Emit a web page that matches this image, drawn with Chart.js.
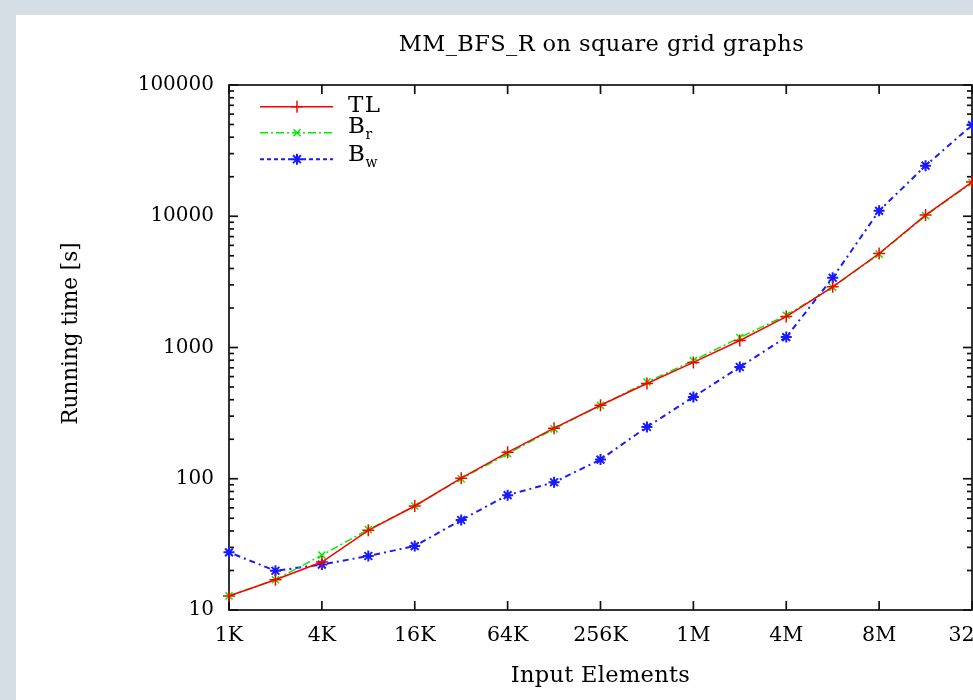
<!DOCTYPE html>
<html><head><meta charset="utf-8">
<script src="https://cdn.jsdelivr.net/npm/chart.js@4.4.1/dist/chart.umd.min.js"></script>
<style>
html,body{margin:0;padding:0;width:973px;height:700px;overflow:hidden;background:#d6dee5;}
#wrap{position:absolute;left:16px;top:15px;width:1100px;height:685px;background:#fff;}
canvas{display:block;}
</style></head><body>
<div id="wrap"><canvas id="c" width="1100" height="685"></canvas></div>
<script>
// ---- data ----
const sizes = ['1K','2K','4K','8K','16K','32K','64K','128K','256K','512K','1M','2M','4M','8M','16M','32M','64M'];
const tlTimes = [12.8, 17.0, 23.2, 40.5, 62, 101, 159, 243, 363, 532, 770, 1130, 1720, 2900, 5200, 10200, 18200];
const brTimes = [12.8, 17.0, 26.2, 41, 62, 100, 155, 240, 362, 545, 795, 1190, 1760, 2880, 5150, 10100, 18000];
const bwTimes = [27.5, 19.9, 22.2, 25.8, 30.7, 48.5, 75, 94, 140, 248, 420, 710, 1200, 3400, 11000, 24300, 49500];
const xTickLabels = ['1K','4K','16K','64K','256K','1M','4M','8M','32M'];
const yTicks = [10, 100, 1000, 10000, 100000];
const chartTitle = 'MM_BFS_R on square grid graphs';
const xTitle = 'Input Elements';
const yTitle = 'Running time [s]';
const legendMain = ['TL', 'B', 'B'];
const legendSub = ['', 'r', 'w'];

const FONT = '"DejaVu Serif", serif';

function pts(arr){ return sizes.map((s,i)=>({x:i, y:arr[i]})); }

function drawMarker(ctx, style, r, x, y){
  if (Chart.helpers && Chart.helpers.drawPoint) {
    Chart.helpers.drawPoint(ctx, {pointStyle: style, radius: r, borderWidth: ctx.lineWidth, rotation: 0}, x, y);
  }
}

const framePlugin = {
  id: 'frame',
  beforeDatasetsDraw(chart){
    const ctx = chart.ctx;
    const {left, right, top, bottom} = chart.chartArea;
    const xs = chart.scales.x, ys = chart.scales.y;
    ctx.save();
    ctx.strokeStyle = '#111';
    ctx.lineWidth = 1.7;
    ctx.strokeRect(left, top, right - left, bottom - top);
    const seg = (x1,y1,x2,y2)=>{ ctx.beginPath(); ctx.moveTo(x1,y1); ctx.lineTo(x2,y2); ctx.stroke(); };
    xs.ticks.forEach(t => {
      const px = xs.getPixelForValue(t.value);
      seg(px, bottom, px, bottom - 9);
      seg(px, top, px, top + 9);
    });
    yTicks.forEach(v => {
      const py = ys.getPixelForValue(v);
      seg(left, py, left + 9, py);
      seg(right, py, right - 9, py);
    });
    yTicks.slice(0, -1).forEach(d => {
      for (let m = 2; m <= 9; m++) {
        const py = ys.getPixelForValue(m * d);
        seg(left, py, left + 5, py);
        seg(right, py, right - 5, py);
      }
    });
    ctx.restore();
  },
  afterDraw(chart){
    const ctx = chart.ctx;
    const {left, right, top, bottom} = chart.chartArea;
    const cx = (left + right) / 2;
    ctx.save();
    ctx.fillStyle = '#000';
    ctx.textBaseline = 'middle';
    // chart title
    ctx.font = '22.5px ' + FONT;
    ctx.letterSpacing = '0.4px';
    ctx.textAlign = 'center';
    ctx.fillText(chartTitle, cx + 1, 30);
    // x title
    ctx.font = '22.5px ' + FONT;
    ctx.letterSpacing = '0.3px';
    ctx.fillText(xTitle, cx, 661);
    // y title
    ctx.save();
    ctx.translate(55, (top + bottom) / 2 - 14);
    ctx.rotate(-Math.PI / 2);
    ctx.font = '21.5px ' + FONT;
    ctx.letterSpacing = '0px';
    ctx.fillText(yTitle, 0, 0);
    ctx.restore();
    // legend
    const lineY = [91.7, 117.7, 144.2];
    const textY = [91, 112.5, 140];
    chart.data.datasets.forEach((ds, i) => {
      const y = lineY[i];
      ctx.save();
      ctx.strokeStyle = ds.borderColor;
      ctx.fillStyle = ds.borderColor;
      ctx.lineWidth = ds.borderWidth;
      ctx.setLineDash(ds.legendDash || ds.borderDash || []);
      ctx.beginPath(); ctx.moveTo(244, y); ctx.lineTo(317, y); ctx.stroke();
      ctx.setLineDash([]);
      ctx.lineWidth = ds.pointBorderWidth;
      drawMarker(ctx, ds.pointStyle, ds.pointRadius, 281, y);
      ctx.restore();
      ctx.font = '23px ' + FONT;
      ctx.letterSpacing = '1.5px';
      ctx.textAlign = 'left';
      ctx.fillText(legendMain[i], 332, textY[i]);
      if (legendSub[i]) {
        const w = ctx.measureText(legendMain[i]).width;
        ctx.font = '14px ' + FONT;
        ctx.letterSpacing = '0px';
        ctx.fillText(legendSub[i], 332 + w - 1, textY[i] + 8);
      }
    });
    ctx.restore();
  }
};

new Chart(document.getElementById('c'), {
  type: 'line',
  data: {
    datasets: [
      { label: 'TL', data: pts(tlTimes), borderColor: '#ff0000', backgroundColor: '#ff0000',
        borderWidth: 1.5, pointStyle: 'cross', pointRadius: 6, pointBorderWidth: 1.5, pointBorderColor: '#ff0000', pointBackgroundColor: '#ff0000', fill: false, tension: 0, clip: 10 },
      { label: 'B_r', data: pts(brTimes), borderColor: '#00ee00', backgroundColor: '#00ee00',
        borderWidth: 1.5, borderDash: [8, 3, 2, 3], pointStyle: 'crossRot', pointRadius: 5, pointBorderWidth: 1.5, pointBorderColor: '#00ee00', pointBackgroundColor: '#00ee00', fill: false, tension: 0, clip: 10 },
      { label: 'B_w', data: pts(bwTimes), borderColor: '#1a1aff', backgroundColor: '#1a1aff',
        borderWidth: 2, borderDash: [2, 4, 6, 4], legendDash: [4, 3], pointStyle: 'star', pointRadius: 5.5, pointBorderWidth: 2, pointBorderColor: '#1a1aff', pointBackgroundColor: '#1a1aff', fill: false, tension: 0, clip: 10 }
    ]
  },
  options: {
    responsive: false,
    animation: false,
    devicePixelRatio: 1,
    layout: { padding: { top: 70, right: 144, left: 0, bottom: 0 } },
    plugins: { legend: { display: false }, title: { display: false }, tooltip: { enabled: false } },
    scales: {
      x: {
        type: 'linear', min: 0, max: sizes.length - 1,
        grid: { display: false, drawTicks: false },
        border: { display: false },
        afterBuildTicks: s => { s.ticks = xTickLabels.map((_, k) => ({ value: k * 2 })); },
        afterFit: s => { s.height = 90; },
        ticks: { autoSkip: false, maxRotation: 0, minRotation: 0, padding: 13, color: '#000',
                 font: { family: FONT, size: 20.5 },
                 callback: (v) => xTickLabels[Math.round(v / 2)] }
      },
      y: {
        type: 'logarithmic', min: 10, max: 100000,
        grid: { display: false, drawTicks: false },
        border: { display: false },
        afterBuildTicks: s => { s.ticks = yTicks.map(v => ({ value: v })); },
        afterFit: s => { s.width = 213; },
        ticks: { padding: 15, color: '#000', font: { family: FONT, size: 20 },
                 callback: (v) => String(v) }
      }
    }
  },
  plugins: [framePlugin]
});
</script>
</body></html>
